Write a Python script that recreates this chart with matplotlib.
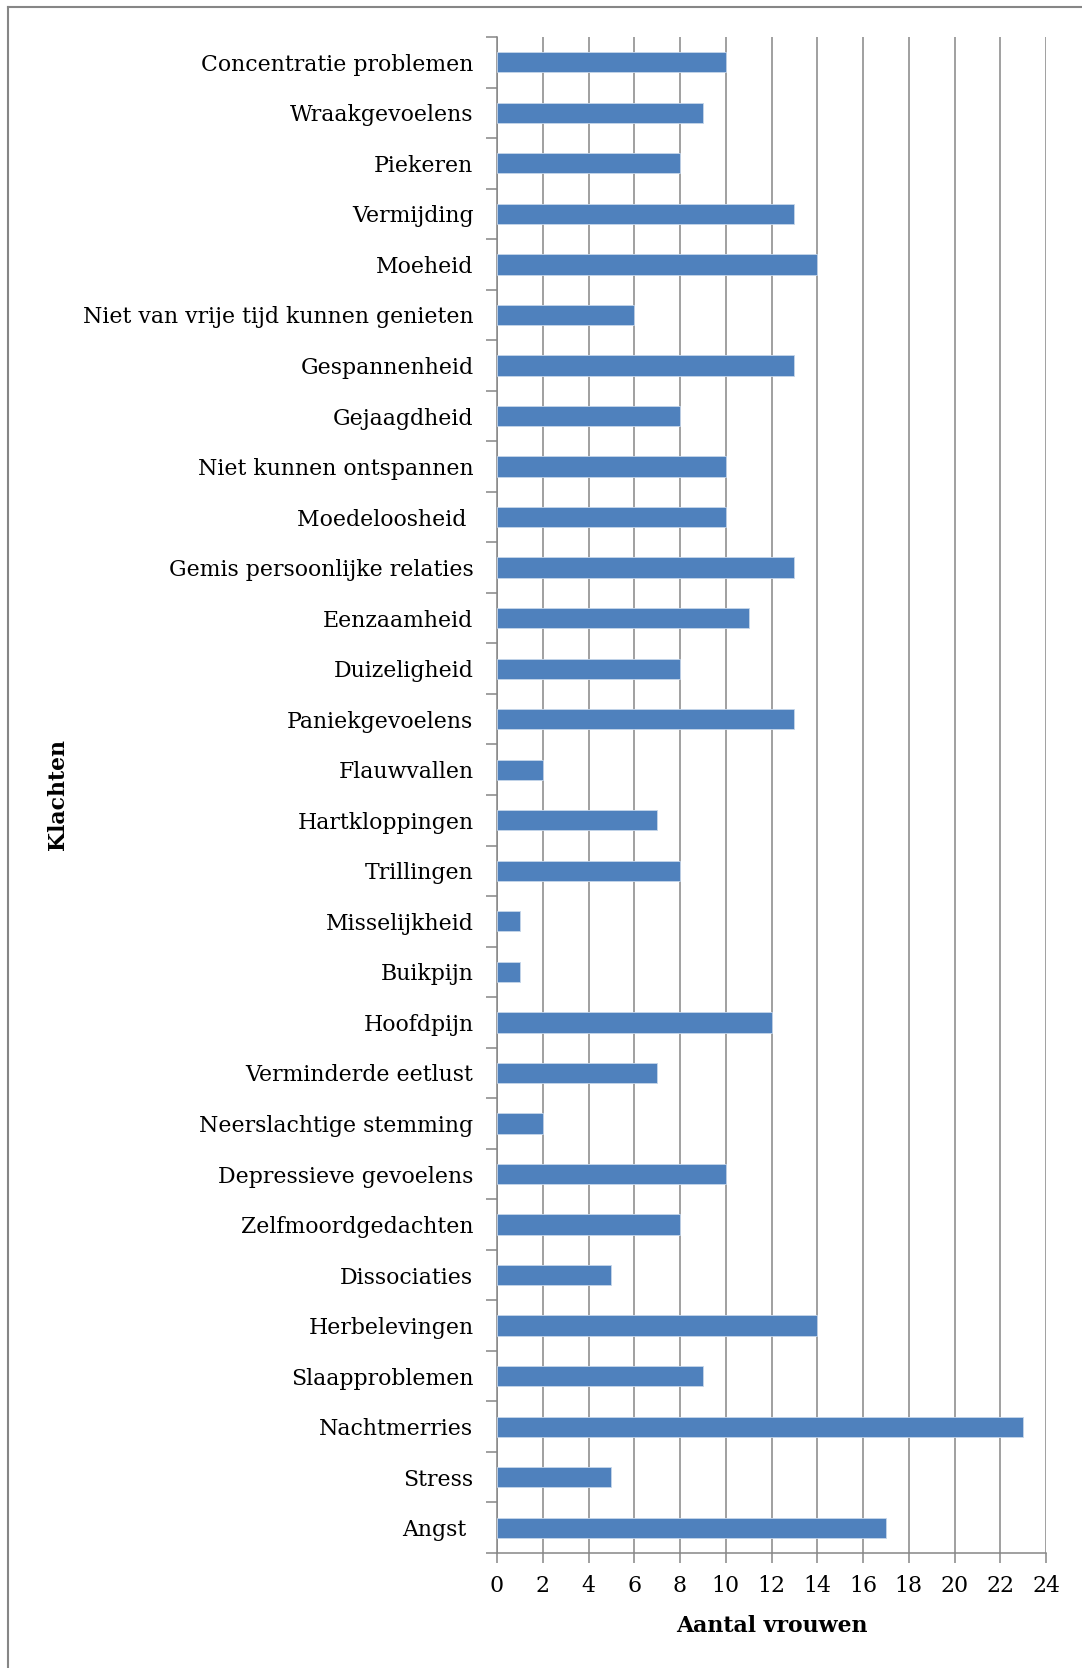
import numpy as np
import matplotlib.pyplot as plt
from matplotlib.lines import Line2D

# DATA (bottom to top, as drawn)
klachten = ["Angst ", "Stress", "Nachtmerries", "Slaapproblemen", "Herbelevingen",
            "Dissociaties", "Zelfmoordgedachten", "Depressieve gevoelens",
            "Neerslachtige stemming", "Verminderde eetlust", "Hoofdpijn", "Buikpijn",
            "Misselijkheid", "Trillingen", "Hartkloppingen", "Flauwvallen",
            "Paniekgevoelens", "Duizeligheid", "Eenzaamheid",
            "Gemis persoonlijke relaties", "Moedeloosheid ", "Niet kunnen ontspannen",
            "Gejaagdheid", "Gespannenheid", "Niet van vrije tijd kunnen genieten",
            "Moeheid", "Vermijding", "Piekeren", "Wraakgevoelens",
            "Concentratie problemen"]
aantal = [17, 5, 23, 9, 14, 5, 8, 10, 2, 7, 12, 1, 1, 8, 7, 2, 13, 8, 11, 13,
          10, 10, 8, 13, 6, 14, 13, 8, 9, 10]
xticks = list(range(0, 25, 2))

# STYLE
plt.rcParams["font.family"] = ["DejaVu Serif"]
grey = "#868686"
blue = "#4F81BD"
fs = 15.8

fig = plt.figure(figsize=(10.82, 16.68), dpi=100)
ax = fig.add_axes([497 / 1082, 1 - 1553 / 1668, (1046 - 497) / 1082, (1553 - 37) / 1668])

pos = np.arange(len(klachten))
ax.barh(pos, aantal, height=0.4, color=blue, edgecolor="#C6D6EA", linewidth=0.6, zorder=3)

ax.set_xlim(0, 24)
ax.set_ylim(-0.5, len(klachten) - 0.5)

# x axis
ax.set_xticks(xticks)
ax.set_xticklabels([str(v) for v in xticks], fontsize=fs)
ax.tick_params(axis="x", length=7, width=1.1, color=grey, pad=9)
ax.grid(axis="x", color=grey, linewidth=1.1, zorder=0)

# y axis: ticks between categories, labels centred
ax.set_yticks(np.arange(-0.5, len(klachten), 1.0))
ax.set_yticklabels([])
ax.set_yticks(pos, minor=True)
ax.set_yticklabels(klachten, minor=True, fontsize=fs)
ax.tick_params(axis="y", which="major", length=8, width=1.1, color=grey)
ax.tick_params(axis="y", which="minor", length=0, pad=17)

for s in ["top", "right"]:
    ax.spines[s].set_visible(False)
for s in ["left", "bottom"]:
    ax.spines[s].set_color(grey)
    ax.spines[s].set_linewidth(1.1)

ax.set_xlabel("Aantal vrouwen", fontsize=fs, fontweight="bold", labelpad=13)
ax.set_ylabel("Klachten", fontsize=fs, fontweight="bold")
ax.yaxis.set_label_coords(69 / 1082, 1 - 795 / 1668, transform=fig.transFigure)

# outer frame (top and left edges only visible)
fig.add_artist(Line2D([7.5 / 1082, 7.5 / 1082], [0, 1 - 7 / 1668], transform=fig.transFigure,
                      color=grey, linewidth=1.5))
fig.add_artist(Line2D([7.5 / 1082, 1], [1 - 7 / 1668, 1 - 7 / 1668], transform=fig.transFigure,
                      color=grey, linewidth=1.5))

fig.savefig("out.png", dpi=100)
